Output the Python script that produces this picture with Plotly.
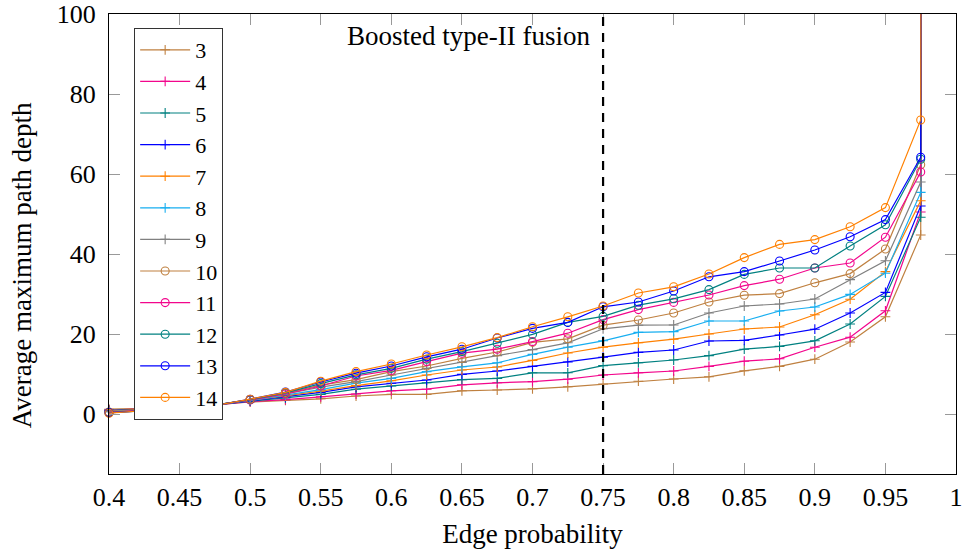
import plotly.graph_objects as go

# Edge probabilities sampled in the experiment
edge_prob = [0.4, 0.425, 0.45, 0.475, 0.5, 0.525, 0.55, 0.575, 0.6, 0.625, 0.65,
             0.675, 0.7, 0.725, 0.75, 0.775, 0.8, 0.825, 0.85, 0.875, 0.9, 0.925,
             0.95, 0.975, 1.0]

# Average maximum path depth per graph size (number of nodes)
depth_3 = [1.2, 1.4, 1.8, 2.3, 3.0, 3.4, 3.8, 4.5, 4.9, 4.9, 5.8, 6.0, 6.3, 6.8,
           7.5, 8.2, 8.75, 9.3, 10.8, 11.9, 13.7, 18.0, 24.3, 44.75, 4100]
depth_4 = [1.0, 1.3, 1.8, 2.3, 3.1, 3.6, 4.3, 5.0, 5.8, 6.2, 7.3, 7.8, 8.1, 8.7,
           9.75, 10.3, 10.75, 11.9, 13.2, 13.8, 16.7, 19.2, 25.8, 50.5, 4200]
depth_5 = [0.9, 1.2, 1.7, 2.3, 3.2, 4.0, 4.9, 6.2, 7.0, 7.8, 8.6, 8.9, 10.3, 10.3,
           12.1, 12.8, 13.5, 14.6, 16.2, 16.9, 18.3, 22.5, 29.4, 49.2, 4300]
depth_6 = [0.8, 1.1, 1.7, 2.3, 3.3, 4.3, 5.4, 6.8, 7.7, 8.5, 9.9, 10.75, 11.9, 13.0,
           14.2, 15.4, 16.0, 18.25, 18.4, 19.75, 21.2, 25.25, 30.4, 52.0, 4400]
depth_7 = [0.7, 1.1, 1.6, 2.3, 3.4, 4.5, 5.7, 7.1, 8.3, 9.75, 11.0, 11.75, 13.4, 15.25,
           16.7, 17.8, 18.7, 20.0, 21.25, 21.75, 24.8, 28.7, 35.6, 53.3, 4500]
depth_8 = [0.6, 1.0, 1.6, 2.3, 3.4, 4.7, 6.1, 7.7, 8.9, 10.6, 11.8, 12.8, 14.9, 16.7,
           18.3, 20.4, 20.6, 23.25, 23.25, 25.75, 26.75, 29.9, 35.2, 55.4, 4600]
depth_9 = [0.6, 1.0, 1.6, 2.3, 3.5, 5.0, 6.7, 8.1, 9.75, 11.4, 12.9, 14.6, 16.1, 17.8,
           21.3, 22.2, 22.25, 25.25, 27.0, 27.5, 28.75, 33.6, 38.3, 58.0, 4700]
depth_10 = [0.5, 0.9, 1.5, 2.2, 3.6, 5.2, 7.2, 8.6, 10.6, 12.0, 13.9, 15.5, 17.9, 18.8,
            22.2, 23.5, 25.25, 28.0, 29.7, 30.1, 32.8, 35.1, 41.25, 62.3, 4800]
depth_11 = [0.4, 0.9, 1.5, 2.2, 3.5, 5.0, 7.0, 9.5, 10.9, 13.1, 15.2, 16.2, 18.1, 20.2,
            23.6, 26.1, 27.9, 29.75, 32.1, 33.7, 36.5, 37.75, 44.2, 60.5, 4900]
depth_12 = [0.35, 0.8, 1.5, 2.2, 3.6, 5.3, 7.6, 9.8, 11.4, 13.7, 15.6, 17.7, 19.9, 22.9,
            24.4, 27.2, 28.8, 31.1, 34.9, 36.5, 36.5, 42.0, 47.3, 63.7, 5000]
depth_13 = [0.3, 0.8, 1.4, 2.1, 3.7, 5.5, 8.0, 10.2, 12.0, 14.3, 16.2, 19.0, 21.4, 22.9,
            26.8, 28.0, 30.75, 34.3, 35.6, 38.25, 41.0, 44.3, 48.6, 64.2, 5100]
depth_14 = [0.2, 0.8, 1.4, 2.1, 3.7, 5.4, 8.2, 10.6, 12.5, 14.75, 16.8, 19.1, 21.8, 24.3,
            27.0, 30.25, 31.8, 35.0, 39.1, 42.4, 43.6, 46.8, 51.6, 73.5, 5200]

series_names = ["3", "4", "5", "6", "7", "8", "9", "10", "11", "12", "13", "14"]
series_values = [depth_3, depth_4, depth_5, depth_6, depth_7, depth_8, depth_9,
                 depth_10, depth_11, depth_12, depth_13, depth_14]

x_tick_vals = [0.4, 0.45, 0.5, 0.55, 0.6, 0.65, 0.7, 0.75, 0.8, 0.85, 0.9, 0.95, 1.0]
x_tick_text = ["0.4", "0.45", "0.5", "0.55", "0.6", "0.65", "0.7", "0.75", "0.8",
               "0.85", "0.9", "0.95", "1"]
y_tick_vals = [0, 20, 40, 60, 80, 100]

fusion_threshold = 0.75
fusion_label = "Boosted type-II fusion"
x_title = "Edge probability"
y_title = "Average maximum path depth"

# Colour cycle: brown, pink, teal, blue, orange, sky blue, gray (repeats with circles)
palette = ["#bf8040", "#f2068c", "#008080", "#0000ff", "#ff8000", "#17aef0", "#808080"]

FONT = "Liberation Serif"

fig = go.Figure()
for i, (name, vals) in enumerate(zip(series_names, series_values)):
    color = palette[i % len(palette)]
    if i < 7:
        marker = dict(symbol="cross-thin-open", size=7, color=color,
                      line=dict(color=color, width=1.1))
    else:
        marker = dict(symbol="circle-open", size=8, color=color,
                      line=dict(color=color, width=1.1))
    fig.add_trace(go.Scatter(
        x=edge_prob, y=vals, name=name, mode="lines+markers",
        line=dict(color=color, width=1.2), marker=marker, cliponaxis=False,
    ))

fig.add_shape(type="line", xref="x", yref="paper", x0=fusion_threshold,
              x1=fusion_threshold, y0=0, y1=1,
              line=dict(color="black", width=2.2, dash="9px,7px"))
fig.add_annotation(x=fusion_threshold, xref="x", y=0.952, yref="paper",
                   text=fusion_label, showarrow=False, xanchor="right",
                   yanchor="middle", xshift=-11,
                   font=dict(family=FONT, size=27, color="black"))

# Vertical axis title, placed as a rotated annotation left of the tick labels
fig.add_annotation(x=0, xref="paper", y=0.454, yref="paper", text=y_title,
                   textangle=-90, showarrow=False, xanchor="center",
                   yanchor="middle", xshift=-87,
                   font=dict(family=FONT, size=27, color="black"))

axis_common = dict(
    showline=True, linecolor="black", linewidth=1.3, mirror="ticks",
    ticks="inside", ticklen=11, tickcolor="#999999", tickwidth=1,
    showgrid=False, zeroline=False, automargin=False,
    ticklabeloverflow="allow",
    tickfont=dict(family=FONT, size=26, color="black"),
)

fig.update_xaxes(range=[0.4, 1.0], tickvals=x_tick_vals, ticktext=x_tick_text,
                 title=dict(text=x_title,
                            font=dict(family=FONT, size=27, color="black"),
                            standoff=12),
                 **axis_common)
fig.update_yaxes(range=[-15, 100], tickvals=y_tick_vals, ticklabelstandoff=7,
                 **axis_common)

fig.update_layout(
    width=962, height=554,
    margin=dict(l=109, r=6, t=14, b=80),
    plot_bgcolor="white", paper_bgcolor="white",
    font=dict(family=FONT, color="black"),
    showlegend=True,
    legend=dict(x=0.0297, y=0.9696, xanchor="left", yanchor="top",
                bgcolor="white", bordercolor="#333333", borderwidth=1,
                font=dict(family=FONT, size=22, color="black"),
                itemwidth=50, tracegroupgap=0),
)

fig.write_html("out.html")
